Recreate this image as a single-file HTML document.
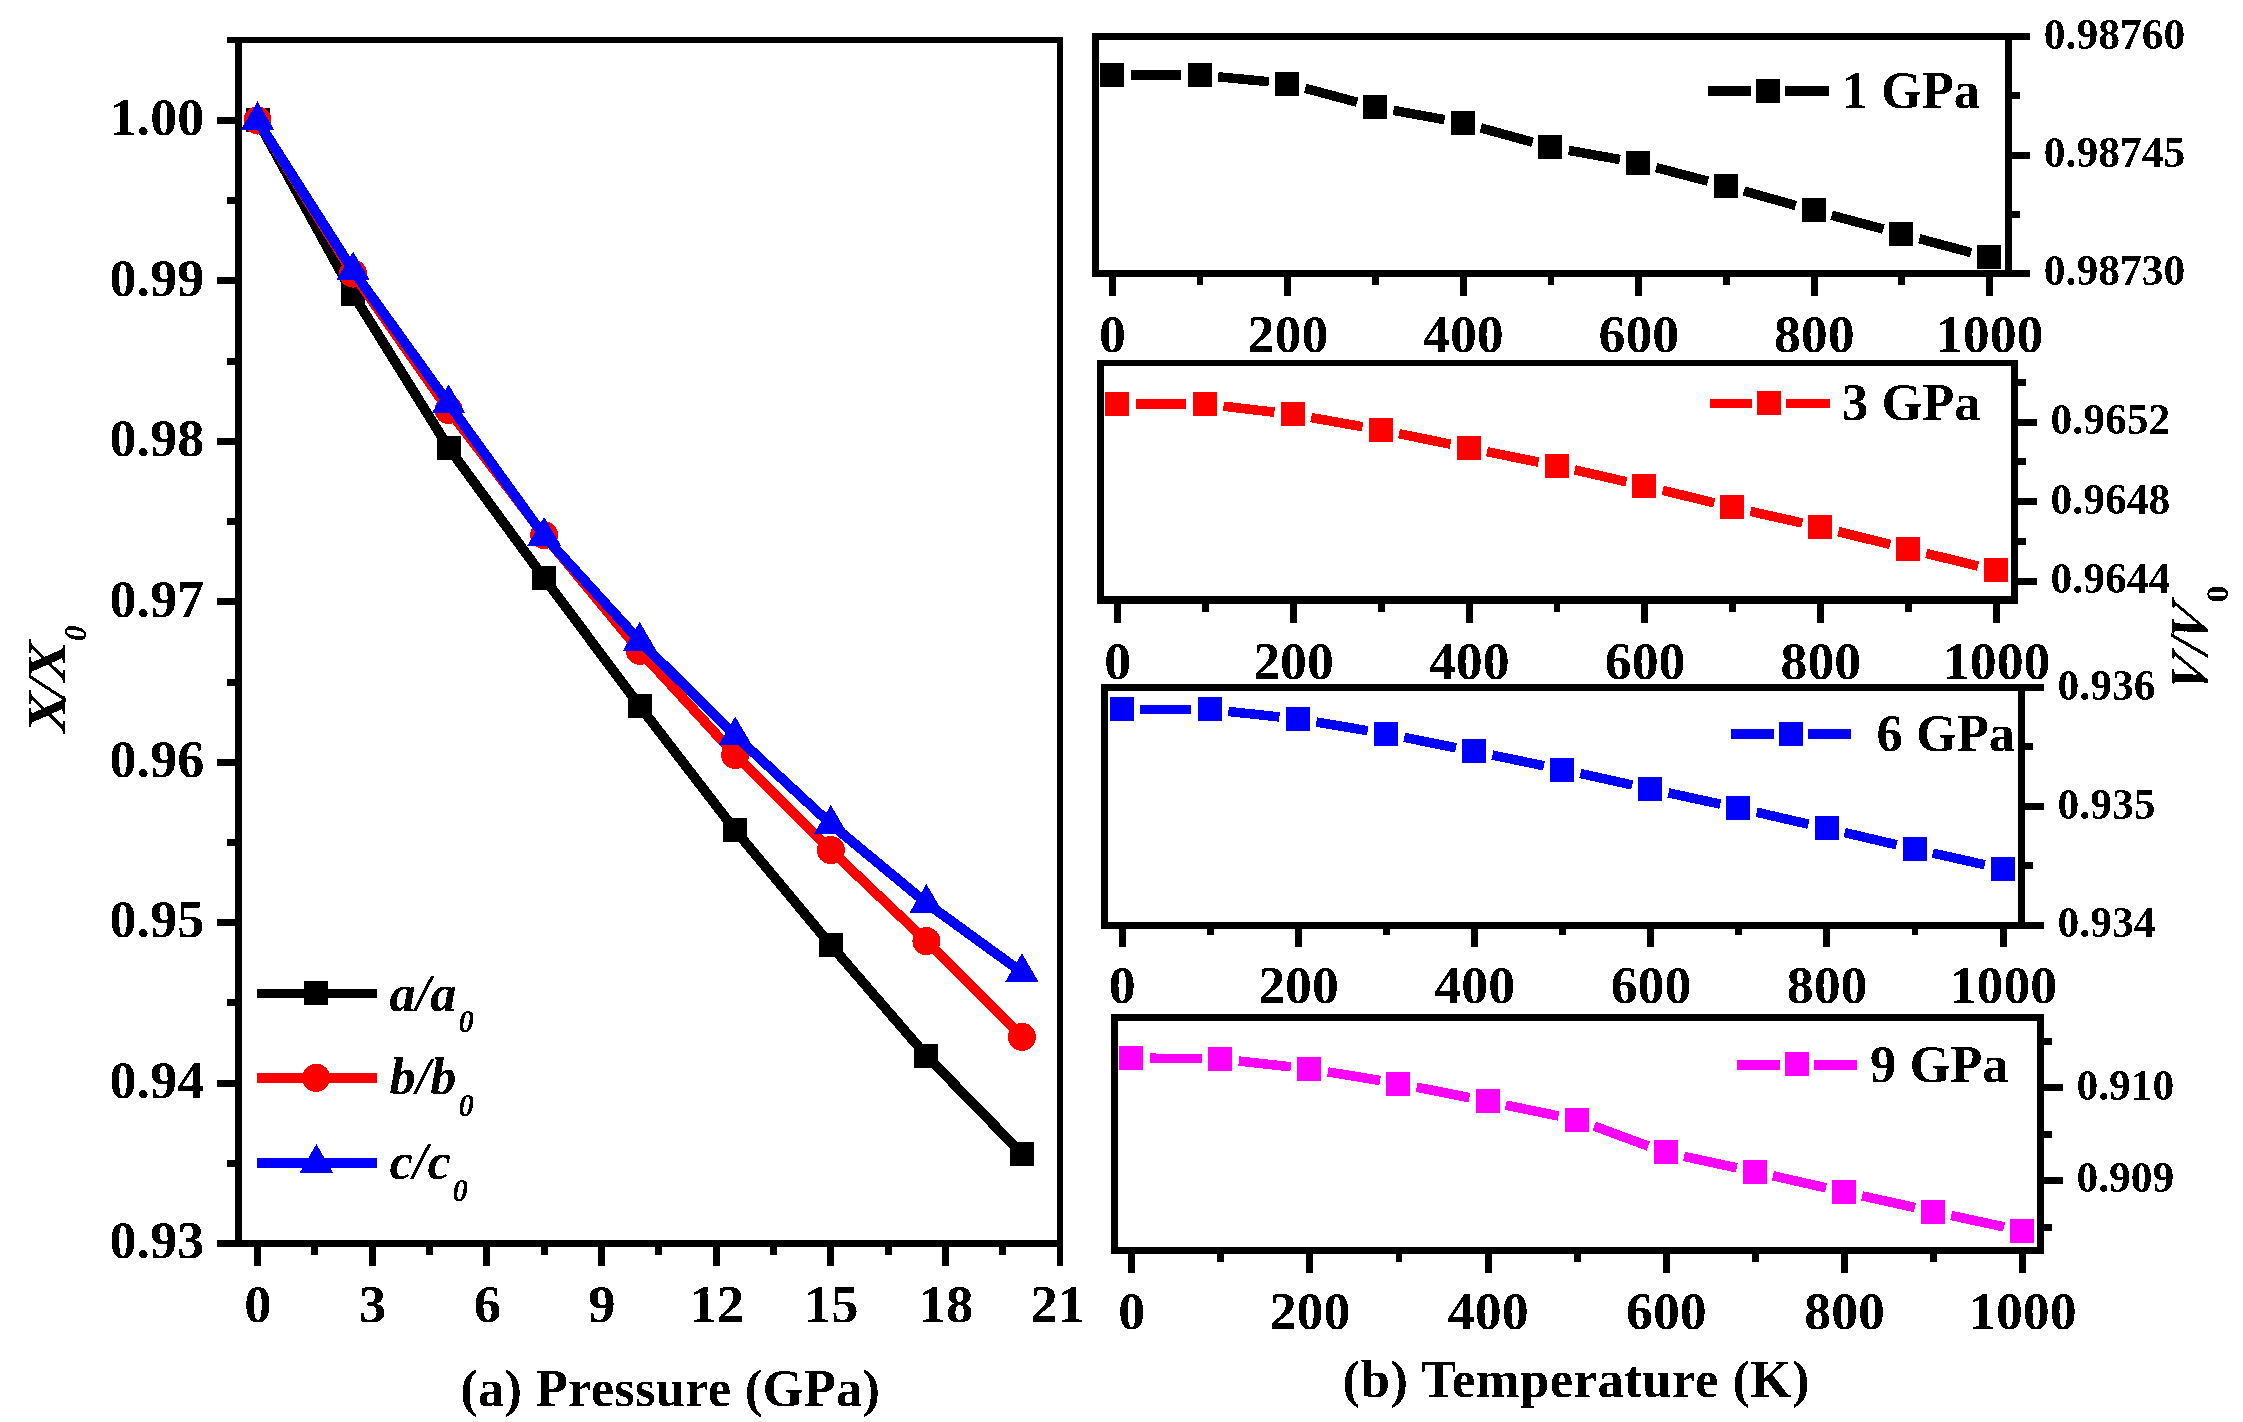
<!DOCTYPE html>
<html><head><meta charset="utf-8"><title>Figure</title>
<style>
html,body{margin:0;padding:0;background:#fff}
svg{display:block}
text{font-family:"Liberation Serif","Times New Roman",serif;font-weight:bold;fill:#000;filter:url(#thr)}
</style></head>
<body>
<svg width="2243" height="1422" viewBox="0 0 2243 1422" shape-rendering="crispEdges">
<defs><filter id="thr" x="-5%" y="-5%" width="110%" height="110%" color-interpolation-filters="sRGB"><feComponentTransfer><feFuncA type="discrete" tableValues="0 1"/></feComponentTransfer></filter></defs>
<rect x="0" y="0" width="2243" height="1422" fill="#fff"/>
<rect x="235.00" y="37.00" width="7.00" height="1210.00" fill="#000"/>
<rect x="227.00" y="37.00" width="836.00" height="6.00" fill="#000"/>
<rect x="217.00" y="1240.00" width="846.00" height="7.00" fill="#000"/>
<rect x="1056.60" y="37.00" width="6.80" height="1229.00" fill="#000"/>
<rect x="217.00" y="117.00" width="19.00" height="7.00" fill="#000"/>
<rect x="217.00" y="277.43" width="19.00" height="7.00" fill="#000"/>
<rect x="217.00" y="437.86" width="19.00" height="7.00" fill="#000"/>
<rect x="217.00" y="598.29" width="19.00" height="7.00" fill="#000"/>
<rect x="217.00" y="758.72" width="19.00" height="7.00" fill="#000"/>
<rect x="217.00" y="919.15" width="19.00" height="7.00" fill="#000"/>
<rect x="217.00" y="1079.58" width="19.00" height="7.00" fill="#000"/>
<rect x="227.00" y="197.22" width="9.00" height="7.00" fill="#000"/>
<rect x="227.00" y="357.64" width="9.00" height="7.00" fill="#000"/>
<rect x="227.00" y="518.08" width="9.00" height="7.00" fill="#000"/>
<rect x="227.00" y="678.50" width="9.00" height="7.00" fill="#000"/>
<rect x="227.00" y="838.94" width="9.00" height="7.00" fill="#000"/>
<rect x="227.00" y="999.37" width="9.00" height="7.00" fill="#000"/>
<rect x="227.00" y="1159.80" width="9.00" height="7.00" fill="#000"/>
<text transform="translate(204.20,135.30) scale(1.03,1)" font-size="52.5" text-anchor="end" >1.00</text>
<text transform="translate(204.20,295.73) scale(1.03,1)" font-size="52.5" text-anchor="end" >0.99</text>
<text transform="translate(204.20,456.16) scale(1.03,1)" font-size="52.5" text-anchor="end" >0.98</text>
<text transform="translate(204.20,616.59) scale(1.03,1)" font-size="52.5" text-anchor="end" >0.97</text>
<text transform="translate(204.20,777.02) scale(1.03,1)" font-size="52.5" text-anchor="end" >0.96</text>
<text transform="translate(204.20,937.45) scale(1.03,1)" font-size="52.5" text-anchor="end" >0.95</text>
<text transform="translate(204.20,1097.88) scale(1.03,1)" font-size="52.5" text-anchor="end" >0.94</text>
<text transform="translate(204.20,1258.31) scale(1.03,1)" font-size="52.5" text-anchor="end" >0.93</text>
<rect x="254.00" y="1246.00" width="7.00" height="20.00" fill="#000"/>
<rect x="368.66" y="1246.00" width="7.00" height="20.00" fill="#000"/>
<rect x="483.32" y="1246.00" width="7.00" height="20.00" fill="#000"/>
<rect x="597.98" y="1246.00" width="7.00" height="20.00" fill="#000"/>
<rect x="712.64" y="1246.00" width="7.00" height="20.00" fill="#000"/>
<rect x="827.30" y="1246.00" width="7.00" height="20.00" fill="#000"/>
<rect x="941.96" y="1246.00" width="7.00" height="20.00" fill="#000"/>
<rect x="311.33" y="1246.00" width="7.00" height="9.00" fill="#000"/>
<rect x="425.99" y="1246.00" width="7.00" height="9.00" fill="#000"/>
<rect x="540.65" y="1246.00" width="7.00" height="9.00" fill="#000"/>
<rect x="655.31" y="1246.00" width="7.00" height="9.00" fill="#000"/>
<rect x="769.97" y="1246.00" width="7.00" height="9.00" fill="#000"/>
<rect x="884.63" y="1246.00" width="7.00" height="9.00" fill="#000"/>
<rect x="999.29" y="1246.00" width="7.00" height="9.00" fill="#000"/>
<text transform="translate(258.00,1321.60) scale(1.04,1)" font-size="52.5" text-anchor="middle" >0</text>
<text transform="translate(372.66,1321.60) scale(1.04,1)" font-size="52.5" text-anchor="middle" >3</text>
<text transform="translate(487.32,1321.60) scale(1.04,1)" font-size="52.5" text-anchor="middle" >6</text>
<text transform="translate(601.98,1321.60) scale(1.04,1)" font-size="52.5" text-anchor="middle" >9</text>
<text transform="translate(716.64,1321.60) scale(1.04,1)" font-size="52.5" text-anchor="middle" >12</text>
<text transform="translate(831.30,1321.60) scale(1.04,1)" font-size="52.5" text-anchor="middle" >15</text>
<text transform="translate(945.96,1321.60) scale(1.04,1)" font-size="52.5" text-anchor="middle" >18</text>
<text transform="translate(1057.82,1321.60) scale(1.04,1)" font-size="52.5" text-anchor="middle" >21</text>
<polyline points="257.5,120.5 353.1,294.2 448.6,447.7 544.1,578.0 639.7,706.1 735.2,830.2 830.8,945.1 926.4,1055.7 1021.9,1153.6" fill="none" stroke="#000" stroke-width="10" stroke-linejoin="round"/>
<rect x="246.00" y="108.00" width="24.00" height="24.00" fill="#000"/>
<rect x="341.00" y="282.00" width="24.00" height="24.00" fill="#000"/>
<rect x="437.00" y="436.00" width="24.00" height="24.00" fill="#000"/>
<rect x="532.00" y="566.00" width="24.00" height="24.00" fill="#000"/>
<rect x="628.00" y="694.00" width="24.00" height="24.00" fill="#000"/>
<rect x="723.00" y="818.00" width="24.00" height="24.00" fill="#000"/>
<rect x="819.00" y="933.00" width="24.00" height="24.00" fill="#000"/>
<rect x="914.00" y="1044.00" width="24.00" height="24.00" fill="#000"/>
<rect x="1010.00" y="1142.00" width="24.00" height="24.00" fill="#000"/>
<polyline points="257.5,120.5 353.1,273.6 448.6,410.0 544.1,535.1 639.7,650.8 735.2,755.0 830.8,850.1 926.4,941.1 1021.9,1036.8" fill="none" stroke="#f00" stroke-width="10" stroke-linejoin="round"/>
<circle cx="257.5" cy="120.5" r="14" fill="#f00"/>
<circle cx="353.1" cy="273.6" r="14" fill="#f00"/>
<circle cx="448.6" cy="410.0" r="14" fill="#f00"/>
<circle cx="544.1" cy="535.1" r="14" fill="#f00"/>
<circle cx="639.7" cy="650.8" r="14" fill="#f00"/>
<circle cx="735.2" cy="755.0" r="14" fill="#f00"/>
<circle cx="830.8" cy="850.1" r="14" fill="#f00"/>
<circle cx="926.4" cy="941.1" r="14" fill="#f00"/>
<circle cx="1021.9" cy="1036.8" r="14" fill="#f00"/>
<polyline points="257.5,120.5 353.1,270.7 448.6,403.5 544.1,536.0 639.7,641.0 735.2,735.6 830.8,824.0 926.4,903.0 1021.9,972.3" fill="none" stroke="#00f" stroke-width="10" stroke-linejoin="round"/>
<polygon points="257.5,101.4 240.8,130.0 274.2,130.0" fill="#00f"/>
<polygon points="353.1,251.6 336.4,280.2 369.8,280.2" fill="#00f"/>
<polygon points="448.6,384.4 431.9,413.0 465.3,413.0" fill="#00f"/>
<polygon points="544.1,516.9 527.4,545.5 560.9,545.5" fill="#00f"/>
<polygon points="639.7,621.9 623.0,650.5 656.4,650.5" fill="#00f"/>
<polygon points="735.2,716.5 718.5,745.1 752.0,745.1" fill="#00f"/>
<polygon points="830.8,804.9 814.1,833.5 847.5,833.5" fill="#00f"/>
<polygon points="926.4,883.9 909.6,912.5 943.1,912.5" fill="#00f"/>
<polygon points="1021.9,953.2 1005.2,981.8 1038.6,981.8" fill="#00f"/>
<rect x="257.00" y="988.80" width="120.20" height="9.60" fill="#000"/>
<rect x="304.00" y="981.00" width="24.00" height="24.00" fill="#000"/>
<rect x="257.00" y="1073.20" width="120.20" height="9.60" fill="#f00"/>
<circle cx="316.2" cy="1077.8" r="14" fill="#f00"/>
<rect x="257.00" y="1158.20" width="120.20" height="9.60" fill="#00f"/>
<polygon points="316.4,1144.1 299.7,1172.7 333.1,1172.7" fill="#00f"/>
<text x="389.5" y="1010.5" font-size="52.5" font-style="italic">a/a</text>
<text x="458.5" y="1032.0" font-size="31" font-style="italic">0</text>
<text x="389.5" y="1094.2" font-size="52.5" font-style="italic">b/b</text>
<text x="458.5" y="1115.7" font-size="31" font-style="italic">0</text>
<text x="389.5" y="1179.2" font-size="52.5" font-style="italic">c/c</text>
<text x="452.5" y="1200.7" font-size="31" font-style="italic">0</text>
<g transform="translate(65,734) rotate(-90)" font-size="54" font-style="italic"><text transform="translate(21.9,0) scale(1.15,1)" text-anchor="middle">X</text><text transform="translate(35.5,0) skewX(-8)">/</text><text transform="translate(72.8,0) scale(1.15,1)" text-anchor="middle">X</text><text x="93" y="21" font-size="31">0</text></g>
<text x="460.20" y="1406.00" font-size="52.5" text-anchor="start" textLength="419.8" lengthAdjust="spacing">(a) Pressure (GPa)</text>
<rect x="1092.00" y="33.00" width="6.50" height="244.00" fill="#000"/>
<rect x="2004.50" y="33.00" width="7.00" height="244.00" fill="#000"/>
<rect x="1092.00" y="33.00" width="938.20" height="7.00" fill="#000"/>
<rect x="1092.00" y="270.00" width="938.20" height="7.00" fill="#000"/>
<rect x="2010.50" y="151.50" width="19.70" height="7.00" fill="#000"/>
<rect x="2010.50" y="92.20" width="9.00" height="7.00" fill="#000"/>
<rect x="2010.50" y="210.70" width="9.00" height="7.00" fill="#000"/>
<text x="2043.80" y="48.50" font-size="43.5" text-anchor="start" >0.98760</text>
<text x="2043.80" y="167.00" font-size="43.5" text-anchor="start" >0.98745</text>
<text x="2043.80" y="285.40" font-size="43.5" text-anchor="start" >0.98730</text>
<rect x="1108.80" y="276.00" width="7.00" height="20.00" fill="#000"/>
<text transform="translate(1112.50,352.00) scale(1.015,1)" font-size="53" text-anchor="middle" >0</text>
<rect x="1196.62" y="276.00" width="6.80" height="9.00" fill="#000"/>
<rect x="1284.24" y="276.00" width="7.00" height="20.00" fill="#000"/>
<text transform="translate(1287.94,352.00) scale(1.015,1)" font-size="53" text-anchor="middle" >200</text>
<rect x="1372.06" y="276.00" width="6.80" height="9.00" fill="#000"/>
<rect x="1459.68" y="276.00" width="7.00" height="20.00" fill="#000"/>
<text transform="translate(1463.38,352.00) scale(1.015,1)" font-size="53" text-anchor="middle" >400</text>
<rect x="1547.50" y="276.00" width="6.80" height="9.00" fill="#000"/>
<rect x="1635.12" y="276.00" width="7.00" height="20.00" fill="#000"/>
<text transform="translate(1638.82,352.00) scale(1.015,1)" font-size="53" text-anchor="middle" >600</text>
<rect x="1722.94" y="276.00" width="6.80" height="9.00" fill="#000"/>
<rect x="1810.56" y="276.00" width="7.00" height="20.00" fill="#000"/>
<text transform="translate(1814.26,352.00) scale(1.015,1)" font-size="53" text-anchor="middle" >800</text>
<rect x="1898.38" y="276.00" width="6.80" height="9.00" fill="#000"/>
<rect x="1986.00" y="276.00" width="7.00" height="20.00" fill="#000"/>
<text transform="translate(1989.70,352.00) scale(1.015,1)" font-size="53" text-anchor="middle" >1000</text>
<line x1="1130.5" y1="75.0" x2="1181.0" y2="75.0" stroke="#000" stroke-width="9.5"/>
<line x1="1218.1" y1="76.8" x2="1268.8" y2="81.7" stroke="#000" stroke-width="9.5"/>
<line x1="1305.3" y1="88.3" x2="1357.1" y2="102.2" stroke="#000" stroke-width="9.5"/>
<line x1="1393.4" y1="110.3" x2="1444.5" y2="119.7" stroke="#000" stroke-width="9.5"/>
<line x1="1480.7" y1="127.9" x2="1532.6" y2="142.2" stroke="#000" stroke-width="9.5"/>
<line x1="1568.8" y1="150.4" x2="1619.9" y2="159.5" stroke="#000" stroke-width="9.5"/>
<line x1="1656.2" y1="167.6" x2="1708.0" y2="181.2" stroke="#000" stroke-width="9.5"/>
<line x1="1743.9" y1="191.0" x2="1795.7" y2="205.5" stroke="#000" stroke-width="9.5"/>
<line x1="1831.6" y1="215.3" x2="1883.4" y2="229.1" stroke="#000" stroke-width="9.5"/>
<line x1="1919.3" y1="238.7" x2="1971.1" y2="252.6" stroke="#000" stroke-width="9.5"/>
<rect x="1100.00" y="63.00" width="24.00" height="24.00" fill="#000"/>
<rect x="1188.00" y="63.00" width="24.00" height="24.00" fill="#000"/>
<rect x="1275.00" y="72.00" width="24.00" height="24.00" fill="#000"/>
<rect x="1363.00" y="95.00" width="24.00" height="24.00" fill="#000"/>
<rect x="1451.00" y="111.00" width="24.00" height="24.00" fill="#000"/>
<rect x="1538.00" y="135.00" width="24.00" height="24.00" fill="#000"/>
<rect x="1626.00" y="151.00" width="24.00" height="24.00" fill="#000"/>
<rect x="1714.00" y="174.00" width="24.00" height="24.00" fill="#000"/>
<rect x="1802.00" y="198.00" width="24.00" height="24.00" fill="#000"/>
<rect x="1889.00" y="222.00" width="24.00" height="24.00" fill="#000"/>
<rect x="1977.00" y="245.00" width="24.00" height="24.00" fill="#000"/>
<rect x="1707.70" y="86.30" width="43.70" height="9.60" fill="#000"/>
<rect x="1784.90" y="86.30" width="44.10" height="9.60" fill="#000"/>
<rect x="1756.00" y="79.00" width="24.00" height="24.00" fill="#000"/>
<text x="1841.50" y="107.50" font-size="52.5" text-anchor="start" >1 GPa</text>
<rect x="1097.00" y="359.50" width="6.50" height="244.10" fill="#000"/>
<rect x="2011.00" y="359.50" width="7.20" height="244.10" fill="#000"/>
<rect x="1097.00" y="359.50" width="921.20" height="6.90" fill="#000"/>
<rect x="1097.00" y="596.40" width="921.20" height="7.20" fill="#000"/>
<rect x="2017.20" y="418.90" width="19.70" height="7.00" fill="#000"/>
<rect x="2017.20" y="498.20" width="19.70" height="7.00" fill="#000"/>
<rect x="2017.20" y="577.50" width="19.70" height="7.00" fill="#000"/>
<rect x="2017.20" y="379.20" width="9.00" height="7.00" fill="#000"/>
<rect x="2017.20" y="458.00" width="9.00" height="7.00" fill="#000"/>
<rect x="2017.20" y="538.00" width="9.00" height="7.00" fill="#000"/>
<text x="2050.50" y="434.40" font-size="43.5" text-anchor="start" >0.9652</text>
<text x="2050.50" y="513.70" font-size="43.5" text-anchor="start" >0.9648</text>
<text x="2050.50" y="593.00" font-size="43.5" text-anchor="start" >0.9644</text>
<rect x="1114.00" y="602.60" width="7.00" height="20.00" fill="#000"/>
<text transform="translate(1117.70,679.00) scale(1.015,1)" font-size="53" text-anchor="middle" >0</text>
<rect x="1202.00" y="602.60" width="6.80" height="9.00" fill="#000"/>
<rect x="1289.80" y="602.60" width="7.00" height="20.00" fill="#000"/>
<text transform="translate(1293.50,679.00) scale(1.015,1)" font-size="53" text-anchor="middle" >200</text>
<rect x="1377.80" y="602.60" width="6.80" height="9.00" fill="#000"/>
<rect x="1465.60" y="602.60" width="7.00" height="20.00" fill="#000"/>
<text transform="translate(1469.30,679.00) scale(1.015,1)" font-size="53" text-anchor="middle" >400</text>
<rect x="1553.60" y="602.60" width="6.80" height="9.00" fill="#000"/>
<rect x="1641.40" y="602.60" width="7.00" height="20.00" fill="#000"/>
<text transform="translate(1645.10,679.00) scale(1.015,1)" font-size="53" text-anchor="middle" >600</text>
<rect x="1729.40" y="602.60" width="6.80" height="9.00" fill="#000"/>
<rect x="1817.20" y="602.60" width="7.00" height="20.00" fill="#000"/>
<text transform="translate(1820.90,679.00) scale(1.015,1)" font-size="53" text-anchor="middle" >800</text>
<rect x="1905.20" y="602.60" width="6.80" height="9.00" fill="#000"/>
<rect x="1993.00" y="602.60" width="7.00" height="20.00" fill="#000"/>
<text transform="translate(1996.70,679.00) scale(1.015,1)" font-size="53" text-anchor="middle" >1000</text>
<line x1="1135.7" y1="404.0" x2="1186.4" y2="404.0" stroke="#f00" stroke-width="9.5"/>
<line x1="1223.5" y1="406.2" x2="1274.4" y2="412.2" stroke="#f00" stroke-width="9.5"/>
<line x1="1311.2" y1="417.6" x2="1362.5" y2="426.7" stroke="#f00" stroke-width="9.5"/>
<line x1="1399.0" y1="433.7" x2="1450.5" y2="444.2" stroke="#f00" stroke-width="9.5"/>
<line x1="1486.9" y1="451.7" x2="1538.4" y2="462.1" stroke="#f00" stroke-width="9.5"/>
<line x1="1574.7" y1="469.9" x2="1626.4" y2="481.8" stroke="#f00" stroke-width="9.5"/>
<line x1="1662.6" y1="490.3" x2="1714.3" y2="502.9" stroke="#f00" stroke-width="9.5"/>
<line x1="1750.5" y1="511.4" x2="1802.2" y2="523.0" stroke="#f00" stroke-width="9.5"/>
<line x1="1838.3" y1="531.6" x2="1890.2" y2="544.5" stroke="#f00" stroke-width="9.5"/>
<line x1="1926.3" y1="553.4" x2="1978.0" y2="566.1" stroke="#f00" stroke-width="9.5"/>
<rect x="1105.00" y="392.00" width="24.00" height="24.00" fill="#f00"/>
<rect x="1193.00" y="392.00" width="24.00" height="24.00" fill="#f00"/>
<rect x="1281.00" y="402.00" width="24.00" height="24.00" fill="#f00"/>
<rect x="1369.00" y="418.00" width="24.00" height="24.00" fill="#f00"/>
<rect x="1457.00" y="436.00" width="24.00" height="24.00" fill="#f00"/>
<rect x="1545.00" y="454.00" width="24.00" height="24.00" fill="#f00"/>
<rect x="1632.00" y="474.00" width="24.00" height="24.00" fill="#f00"/>
<rect x="1720.00" y="495.00" width="24.00" height="24.00" fill="#f00"/>
<rect x="1808.00" y="515.00" width="24.00" height="24.00" fill="#f00"/>
<rect x="1896.00" y="537.00" width="24.00" height="24.00" fill="#f00"/>
<rect x="1984.00" y="558.00" width="24.00" height="24.00" fill="#f00"/>
<rect x="1709.90" y="398.50" width="42.50" height="9.60" fill="#f00"/>
<rect x="1785.90" y="398.50" width="44.40" height="9.60" fill="#f00"/>
<rect x="1757.00" y="391.00" width="24.00" height="24.00" fill="#f00"/>
<text x="1842.00" y="419.80" font-size="52.5" text-anchor="start" >3 GPa</text>
<rect x="1101.30" y="684.20" width="6.50" height="244.60" fill="#000"/>
<rect x="2018.30" y="684.20" width="7.00" height="244.60" fill="#000"/>
<rect x="1101.30" y="684.20" width="942.70" height="7.00" fill="#000"/>
<rect x="1101.30" y="921.80" width="942.70" height="7.00" fill="#000"/>
<rect x="2024.30" y="803.00" width="19.70" height="7.00" fill="#000"/>
<rect x="2024.30" y="743.20" width="9.00" height="7.00" fill="#000"/>
<rect x="2024.30" y="862.40" width="9.00" height="7.00" fill="#000"/>
<text x="2057.60" y="699.70" font-size="43.5" text-anchor="start" >0.936</text>
<text x="2057.60" y="818.50" font-size="43.5" text-anchor="start" >0.935</text>
<text x="2057.60" y="937.30" font-size="43.5" text-anchor="start" >0.934</text>
<rect x="1118.60" y="927.80" width="7.00" height="19.00" fill="#000"/>
<text transform="translate(1122.30,1003.20) scale(1.015,1)" font-size="53" text-anchor="middle" >0</text>
<rect x="1206.81" y="927.80" width="6.80" height="7.60" fill="#000"/>
<rect x="1294.82" y="927.80" width="7.00" height="19.00" fill="#000"/>
<text transform="translate(1298.52,1003.20) scale(1.015,1)" font-size="53" text-anchor="middle" >200</text>
<rect x="1383.03" y="927.80" width="6.80" height="7.60" fill="#000"/>
<rect x="1471.04" y="927.80" width="7.00" height="19.00" fill="#000"/>
<text transform="translate(1474.74,1003.20) scale(1.015,1)" font-size="53" text-anchor="middle" >400</text>
<rect x="1559.25" y="927.80" width="6.80" height="7.60" fill="#000"/>
<rect x="1647.26" y="927.80" width="7.00" height="19.00" fill="#000"/>
<text transform="translate(1650.96,1003.20) scale(1.015,1)" font-size="53" text-anchor="middle" >600</text>
<rect x="1735.47" y="927.80" width="6.80" height="7.60" fill="#000"/>
<rect x="1823.48" y="927.80" width="7.00" height="19.00" fill="#000"/>
<text transform="translate(1827.18,1003.20) scale(1.015,1)" font-size="53" text-anchor="middle" >800</text>
<rect x="1911.69" y="927.80" width="6.80" height="7.60" fill="#000"/>
<rect x="1999.70" y="927.80" width="7.00" height="19.00" fill="#000"/>
<text transform="translate(2003.40,1003.20) scale(1.015,1)" font-size="53" text-anchor="middle" >1000</text>
<line x1="1140.3" y1="709.4" x2="1191.2" y2="709.4" stroke="#00f" stroke-width="9.5"/>
<line x1="1228.3" y1="711.4" x2="1279.4" y2="717.0" stroke="#00f" stroke-width="9.5"/>
<line x1="1316.3" y1="722.1" x2="1367.7" y2="730.7" stroke="#00f" stroke-width="9.5"/>
<line x1="1404.3" y1="737.4" x2="1455.9" y2="747.8" stroke="#00f" stroke-width="9.5"/>
<line x1="1492.4" y1="755.1" x2="1544.0" y2="765.8" stroke="#00f" stroke-width="9.5"/>
<line x1="1580.4" y1="773.5" x2="1632.2" y2="785.0" stroke="#00f" stroke-width="9.5"/>
<line x1="1668.5" y1="792.9" x2="1720.3" y2="804.1" stroke="#00f" stroke-width="9.5"/>
<line x1="1756.6" y1="812.2" x2="1808.5" y2="824.2" stroke="#00f" stroke-width="9.5"/>
<line x1="1844.7" y1="832.6" x2="1896.6" y2="844.8" stroke="#00f" stroke-width="9.5"/>
<line x1="1932.8" y1="853.1" x2="1984.7" y2="864.8" stroke="#00f" stroke-width="9.5"/>
<rect x="1110.00" y="697.00" width="24.00" height="24.00" fill="#00f"/>
<rect x="1198.00" y="697.00" width="24.00" height="24.00" fill="#00f"/>
<rect x="1286.00" y="707.00" width="24.00" height="24.00" fill="#00f"/>
<rect x="1374.00" y="722.00" width="24.00" height="24.00" fill="#00f"/>
<rect x="1462.00" y="739.00" width="24.00" height="24.00" fill="#00f"/>
<rect x="1550.00" y="758.00" width="24.00" height="24.00" fill="#00f"/>
<rect x="1638.00" y="777.00" width="24.00" height="24.00" fill="#00f"/>
<rect x="1726.00" y="796.00" width="24.00" height="24.00" fill="#00f"/>
<rect x="1815.00" y="816.00" width="24.00" height="24.00" fill="#00f"/>
<rect x="1903.00" y="837.00" width="24.00" height="24.00" fill="#00f"/>
<rect x="1991.00" y="857.00" width="24.00" height="24.00" fill="#00f"/>
<rect x="1730.90" y="729.00" width="43.50" height="9.60" fill="#00f"/>
<rect x="1807.90" y="729.00" width="43.10" height="9.60" fill="#00f"/>
<rect x="1779.00" y="722.00" width="24.00" height="24.00" fill="#00f"/>
<text x="1876.50" y="750.90" font-size="52.5" text-anchor="start" >6 GPa</text>
<rect x="1111.20" y="1014.20" width="6.50" height="239.30" fill="#000"/>
<rect x="2037.10" y="1014.20" width="7.00" height="239.30" fill="#000"/>
<rect x="1111.20" y="1014.20" width="932.90" height="7.00" fill="#000"/>
<rect x="1111.20" y="1246.50" width="932.90" height="7.00" fill="#000"/>
<rect x="2043.10" y="1084.30" width="19.70" height="7.00" fill="#000"/>
<rect x="2043.10" y="1176.80" width="19.70" height="7.00" fill="#000"/>
<rect x="2043.10" y="1038.00" width="9.00" height="7.00" fill="#000"/>
<rect x="2043.10" y="1130.90" width="9.00" height="7.00" fill="#000"/>
<rect x="2043.10" y="1223.80" width="9.00" height="7.00" fill="#000"/>
<text x="2076.40" y="1099.80" font-size="43.5" text-anchor="start" >0.910</text>
<text x="2076.40" y="1192.30" font-size="43.5" text-anchor="start" >0.909</text>
<rect x="1128.10" y="1252.50" width="7.00" height="20.00" fill="#000"/>
<text transform="translate(1131.80,1329.00) scale(1.015,1)" font-size="53" text-anchor="middle" >0</text>
<rect x="1217.30" y="1252.50" width="6.80" height="9.00" fill="#000"/>
<rect x="1306.30" y="1252.50" width="7.00" height="20.00" fill="#000"/>
<text transform="translate(1310.00,1329.00) scale(1.015,1)" font-size="53" text-anchor="middle" >200</text>
<rect x="1395.50" y="1252.50" width="6.80" height="9.00" fill="#000"/>
<rect x="1484.50" y="1252.50" width="7.00" height="20.00" fill="#000"/>
<text transform="translate(1488.20,1329.00) scale(1.015,1)" font-size="53" text-anchor="middle" >400</text>
<rect x="1573.70" y="1252.50" width="6.80" height="9.00" fill="#000"/>
<rect x="1662.70" y="1252.50" width="7.00" height="20.00" fill="#000"/>
<text transform="translate(1666.40,1329.00) scale(1.015,1)" font-size="53" text-anchor="middle" >600</text>
<rect x="1751.90" y="1252.50" width="6.80" height="9.00" fill="#000"/>
<rect x="1840.90" y="1252.50" width="7.00" height="20.00" fill="#000"/>
<text transform="translate(1844.60,1329.00) scale(1.015,1)" font-size="53" text-anchor="middle" >800</text>
<rect x="1930.10" y="1252.50" width="6.80" height="9.00" fill="#000"/>
<rect x="2019.10" y="1252.50" width="7.00" height="20.00" fill="#000"/>
<text transform="translate(2022.80,1329.00) scale(1.015,1)" font-size="53" text-anchor="middle" >1000</text>
<line x1="1149.8" y1="1058.2" x2="1201.7" y2="1058.7" stroke="#f0f" stroke-width="9.5"/>
<line x1="1238.8" y1="1061.0" x2="1290.9" y2="1066.8" stroke="#f0f" stroke-width="9.5"/>
<line x1="1327.8" y1="1071.9" x2="1380.1" y2="1080.5" stroke="#f0f" stroke-width="9.5"/>
<line x1="1416.7" y1="1087.2" x2="1469.4" y2="1097.7" stroke="#f0f" stroke-width="9.5"/>
<line x1="1505.8" y1="1105.1" x2="1558.5" y2="1116.0" stroke="#f0f" stroke-width="9.5"/>
<line x1="1594.2" y1="1126.1" x2="1648.3" y2="1146.1" stroke="#f0f" stroke-width="9.5"/>
<line x1="1684.0" y1="1156.4" x2="1736.7" y2="1167.8" stroke="#f0f" stroke-width="9.5"/>
<line x1="1773.0" y1="1175.8" x2="1825.9" y2="1187.8" stroke="#f0f" stroke-width="9.5"/>
<line x1="1862.2" y1="1195.9" x2="1914.9" y2="1207.5" stroke="#f0f" stroke-width="9.5"/>
<line x1="1951.3" y1="1215.5" x2="2004.0" y2="1226.9" stroke="#f0f" stroke-width="9.5"/>
<rect x="1119.00" y="1046.00" width="24.00" height="24.00" fill="#f0f"/>
<rect x="1208.00" y="1047.00" width="24.00" height="24.00" fill="#f0f"/>
<rect x="1297.00" y="1057.00" width="24.00" height="24.00" fill="#f0f"/>
<rect x="1386.00" y="1072.00" width="24.00" height="24.00" fill="#f0f"/>
<rect x="1476.00" y="1089.00" width="24.00" height="24.00" fill="#f0f"/>
<rect x="1565.00" y="1108.00" width="24.00" height="24.00" fill="#f0f"/>
<rect x="1654.00" y="1140.00" width="24.00" height="24.00" fill="#f0f"/>
<rect x="1743.00" y="1160.00" width="24.00" height="24.00" fill="#f0f"/>
<rect x="1832.00" y="1180.00" width="24.00" height="24.00" fill="#f0f"/>
<rect x="1921.00" y="1200.00" width="24.00" height="24.00" fill="#f0f"/>
<rect x="2010.00" y="1219.00" width="24.00" height="24.00" fill="#f0f"/>
<rect x="1736.80" y="1059.90" width="43.50" height="9.60" fill="#f0f"/>
<rect x="1813.80" y="1059.90" width="43.40" height="9.60" fill="#f0f"/>
<rect x="1785.00" y="1052.00" width="24.00" height="24.00" fill="#f0f"/>
<text x="1870.00" y="1081.90" font-size="52.5" text-anchor="start" >9 GPa</text>
<g transform="translate(2207,684) rotate(-90)" font-size="54" font-style="italic"><text transform="translate(-12.2,0) skewX(-15)">V</text><text transform="translate(29.3,0) skewX(-4)">/</text><text transform="translate(38.3,0) skewX(-15)">V</text><text transform="translate(90.2,21.3) scale(1.12,1)" text-anchor="middle" font-size="31" font-style="normal">0</text></g>
<text x="1342.60" y="1397.20" font-size="52.5" text-anchor="start" textLength="466.8" lengthAdjust="spacing">(b) Temperature (K)</text>
</svg>
</body></html>
